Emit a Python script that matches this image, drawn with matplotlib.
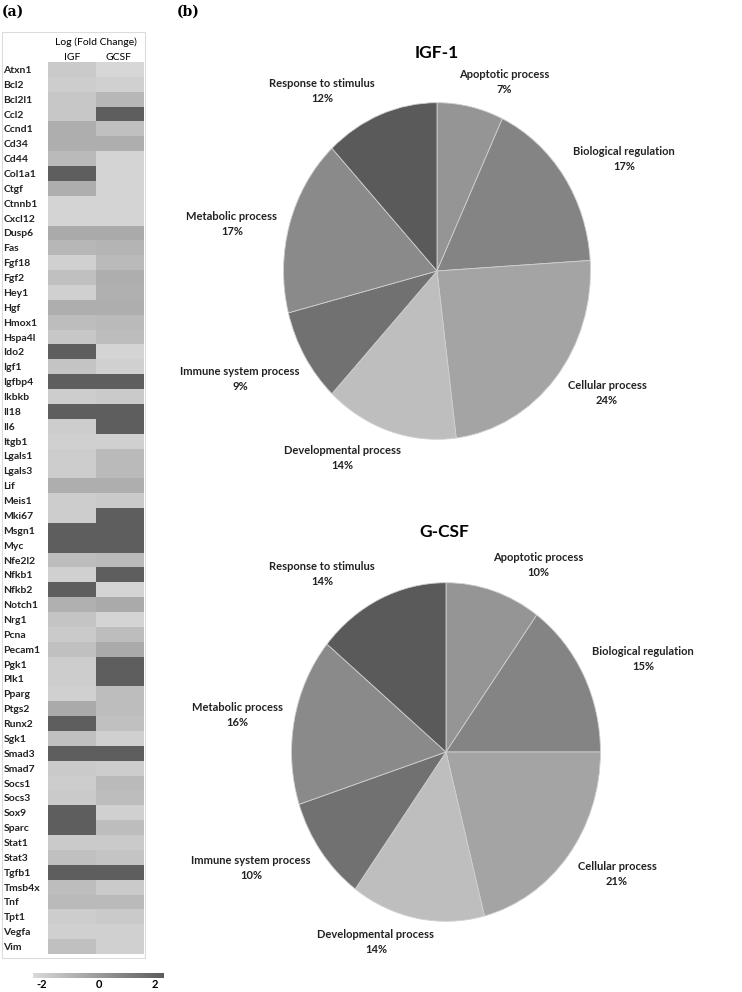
import numpy as np
from matplotlib import pyplot as plt
from matplotlib.colors import LinearSegmentedColormap
from matplotlib.patches import Rectangle

W, H = 742, 992

genes = ['Atxn1', 'Bcl2', 'Bcl2l1', 'Ccl2', 'Ccnd1', 'Cd34', 'Cd44', 'Col1a1', 'Ctgf',
         'Ctnnb1', 'Cxcl12', 'Dusp6', 'Fas', 'Fgf18', 'Fgf2', 'Hey1', 'Hgf', 'Hmox1',
         'Hspa4l', 'Ido2', 'Igf1', 'Igfbp4', 'Ikbkb', 'Il18', 'Il6', 'Itgb1', 'Lgals1',
         'Lgals3', 'Lif', 'Meis1', 'Mki67', 'Msgn1', 'Myc', 'Nfe2l2', 'Nfkb1', 'Nfkb2',
         'Notch1', 'Nrg1', 'Pcna', 'Pecam1', 'Pgk1', 'Plk1', 'Pparg', 'Ptgs2', 'Runx2',
         'Sgk1', 'Smad3', 'Smad7', 'Socs1', 'Socs3', 'Sox9', 'Sparc', 'Stat1', 'Stat3',
         'Tgfb1', 'Tmsb4x', 'Tnf', 'Tpt1', 'Vegfa', 'Vim']

# log fold change
igf = [-1.5, -1.6, -1.4, -1.4, -0.6, -0.6, -1.0, 1.9, -0.6,
       -1.8, -1.8, -0.5, -0.9, -1.7, -1.2, -1.7, -0.6, -1.1,
       -1.4, 1.9, -1.3, 1.9, -1.6, 1.9, -1.6, -1.7, -1.6,
       -1.6, -0.6, -1.6, -1.6, 1.9, 1.9, -1.1, -1.7, 1.9,
       -0.7, -1.3, -1.5, -1.2, -1.6, -1.6, -1.7, -0.5, 1.9,
       -1.2, 1.9, -1.5, -1.6, -1.5, 1.9, 1.9, -1.5, -1.2,
       1.9, -1.1, -1.0, -1.6, -1.7, -1.2]
gcsf = [-1.9, -1.7, -0.9, 1.9, -1.2, -0.6, -1.8, -1.8, -1.8,
        -1.8, -1.8, -0.5, -0.8, -1.0, -0.6, -0.7, -0.6, -1.0,
        -1.1, -1.8, -1.7, 1.9, -1.5, 1.9, 1.9, -1.7, -1.0,
        -1.0, -0.6, -1.5, 1.9, 1.9, 1.9, -1.0, 1.9, -1.8,
        -0.5, -1.8, -1.1, -0.5, 1.9, 1.9, -1.1, -1.1, -1.2,
        -1.7, 1.9, -1.6, -1.0, -1.1, -1.7, -1.1, -1.5, -1.3,
        1.9, -1.5, -1.0, -1.5, -1.7, -1.7]
columns = ['IGF', 'GCSF']
cbar_ticks = [-2, 0, 2]

processes = ['Apoptotic process', 'Biological regulation', 'Cellular process',
             'Developmental process', 'Immune system process', 'Metabolic process',
             'Response to stimulus']
igf_pct = [7, 17, 24, 14, 9, 17, 12]
gcsf_pct = [10, 15, 21, 14, 10, 16, 14]
slice_colors = ['#959595', '#848484', '#a4a4a4', '#bebebe', '#717171', '#8a8a8a', '#5a5a5a']

plt.rcParams['font.family'] = ['Lato', 'DejaVu Sans']

fig = plt.figure(figsize=(W / 100, H / 100), dpi=100)


def px_axes(x0, y0, x1, y1):
    return fig.add_axes([x0 / W, 1 - y1 / H, (x1 - x0) / W, (y1 - y0) / H])


cmap = LinearSegmentedColormap.from_list('greys', ['#dadada', '#5c5c5c'])

# ---- (a) heatmap
fig.patches.append(Rectangle((2 / W, 1 - 958 / H), 143 / W, 926 / H, transform=fig.transFigure,
                             facecolor='none', edgecolor='#dcdcdc', lw=0.8, zorder=-1))
ax = px_axes(48, 62, 143, 954)
vals = np.array([igf, gcsf]).T
ax.imshow(vals, cmap=cmap, vmin=-2, vmax=2, aspect='auto', interpolation='nearest')
ax.set_yticks(range(len(genes)))
ax.set_yticklabels(genes, fontsize=7.5, fontweight='bold', ha='left', color='#222222')
ax.tick_params(axis='y', length=0, pad=32)
ax.set_xticks([])
for s in ax.spines.values():
    s.set_visible(False)
fig.text(96 / W, 1 - 42 / H, 'Log (Fold Change)', fontsize=7.5, ha='center', va='center')
for i, c in enumerate(columns):
    fig.text((72 + i * 47) / W, 1 - 58 / H, c, fontsize=7.5, ha='center', va='center')

cax = px_axes(33, 973, 164, 978)
span = 2 * 131 / 113
grad = np.linspace(-span, span, 256)[None, :]
cax.imshow(grad, cmap=cmap, vmin=-span, vmax=span, aspect='auto',
           extent=[-span, span, 0, 1])
cax.set_xlim(-span, span)
cax.set_yticks([])
cax.set_xticks(cbar_ticks)
cax.set_xticklabels([str(t) for t in cbar_ticks], fontsize=8, fontweight='bold')
cax.tick_params(axis='x', length=0, pad=1)
for s in cax.spines.values():
    s.set_visible(False)

fig.text(2 / W, 1 - 12 / H, '(a)', fontsize=10, fontweight='bold', family='DejaVu Serif',
         va='center')
fig.text(177 / W, 1 - 12 / H, '(b)', fontsize=10, fontweight='bold', family='DejaVu Serif',
         va='center')

# ---- (b) pies
pies = [
    ('IGF-1', igf_pct, (282, 101, 592, 441), (437, 53),
     [(504, 82), (624, 159), (607, 393), (342, 458), (240, 379), (232, 224), (322, 91)]),
    ('G-CSF', gcsf_pct, (290, 581, 602, 923), (444, 532),
     [(538, 565), (643, 659), (617, 874), (376, 942), (251, 868), (237, 715), (322, 574)]),
]
for title, pct, box, tpos, lpos in pies:
    pax = px_axes(*box)
    pax.pie(pct, colors=slice_colors, startangle=90, counterclock=False, radius=1,
            wedgeprops=dict(edgecolor='#d0d0d0', linewidth=0.6))
    pax.set_aspect('auto')
    pax.set_xlim(-1.01, 1.01)
    pax.set_ylim(-1.01, 1.01)
    fig.text(tpos[0] / W, 1 - tpos[1] / H, title, fontsize=12.5, fontweight='bold',
             ha='center', va='center')
    for name, p, (lx, ly) in zip(processes, pct, lpos):
        fig.text(lx / W, 1 - ly / H, f'{name}\n{p}%', fontsize=8, fontweight='bold',
                 ha='center', va='center', linespacing=1.4, color='#222222')

fig.savefig('out.png', dpi=100)
